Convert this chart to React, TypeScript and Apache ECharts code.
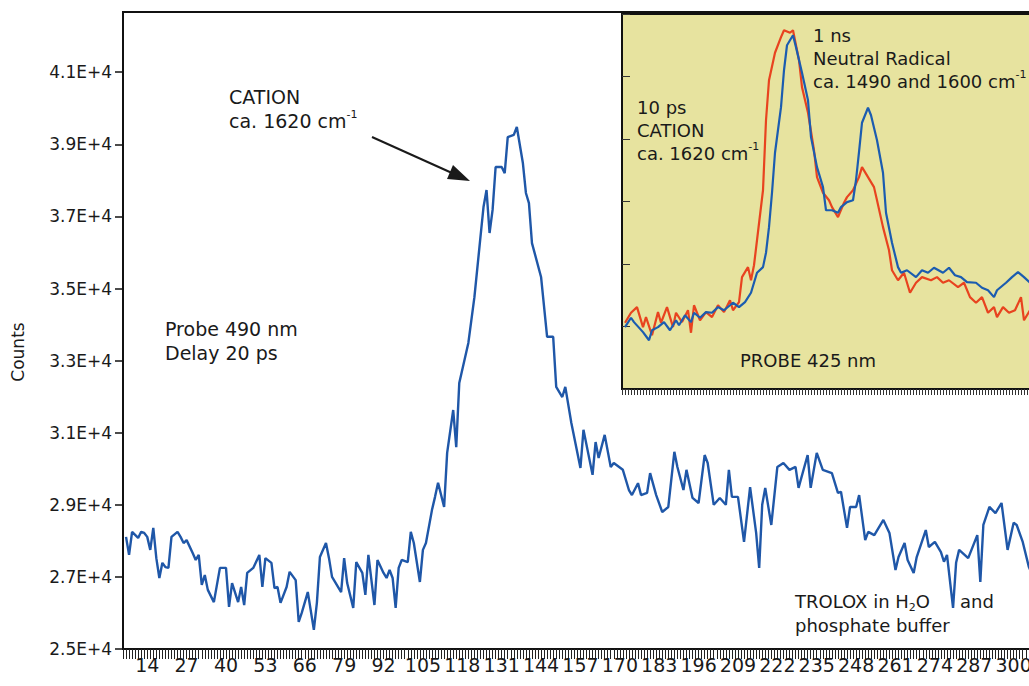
import React, { useEffect, useRef } from 'react';
import * as echarts from 'echarts';

const FONT = '"DejaVu Sans", sans-serif';
const INK = '#1a1a1a';

// scan numbers on the main axis (category axis)
const scanNumbers: string[] = [];
for (let s = 6; s <= 312; s++) scanNumbers.push(String(s));

const xTickLabels = ['14', '27', '40', '53', '66', '79', '92', '105', '118', '131', '144', '157', '170', '183', '196', '209', '222', '235', '248', '261', '274', '287', '300'];

// main trace: [scan number, counts]
const mainCounts: Array<[number, number]> = [
  [7, 28110], [8, 27610], [9, 28250], [11, 28080], [12, 28250], [13, 28220], [14, 28110], [15, 27750], [16, 28360], [17, 27520],
  [18, 26970], [19, 27390], [20, 27270], [21, 27250], [22, 28110], [24, 28250], [25, 28110], [26, 27940], [27, 28020], [29, 27660],
  [30, 27470], [31, 27610], [32, 26780], [33, 27050], [34, 26640], [36, 26300], [38, 27250], [40, 27250], [41, 26170], [42, 26830],
  [44, 26300], [45, 26720], [46, 26220], [47, 27110], [49, 27250], [51, 27610], [52, 26720], [53, 27520], [55, 27390], [56, 26690],
  [57, 26720], [58, 26280], [60, 26720], [61, 27140], [63, 26910], [64, 25750], [65, 26000], [67, 26580], [69, 25530], [70, 26280],
  [71, 27550], [73, 27940], [74, 27520], [75, 27000], [78, 26580], [79, 27520], [80, 26830], [82, 26140], [83, 27410], [85, 27110],
  [86, 26500], [87, 27610], [89, 26220], [90, 27470], [92, 27110], [93, 26970], [94, 27190], [95, 26970], [96, 26140], [97, 27250],
  [98, 27470], [100, 27410], [101, 28250], [102, 27940], [104, 26860], [105, 27750], [106, 27940], [108, 28860], [109, 29220], [110, 29610],
  [112, 28940], [113, 30440], [115, 31630], [116, 30600], [117, 32380], [120, 33490], [122, 34760], [124, 36430], [125, 37260], [126, 37730],
  [127, 36540], [128, 37180], [129, 38370], [131, 38370], [132, 38200], [133, 39200], [135, 39260], [136, 39480], [138, 38480], [139, 37650],
  [140, 37370], [141, 36260], [144, 35320], [146, 33660], [148, 33660], [149, 32270], [151, 31990], [152, 32270], [154, 31270], [157, 30020],
  [158, 31080], [161, 29830], [162, 30740], [163, 30300], [165, 30940], [167, 30050], [168, 30160], [171, 29970], [173, 29410], [174, 29270],
  [176, 29600], [177, 29270], [179, 29330], [180, 29880], [182, 29270], [184, 28800], [186, 28940], [188, 30470], [189, 30050], [191, 29410],
  [192, 29970], [194, 29190], [196, 29050], [198, 30380], [199, 30160], [201, 29000], [203, 29190], [205, 29000], [206, 29970], [207, 29220],
  [209, 29220], [211, 27970], [213, 29490], [215, 28220], [216, 27250], [217, 29000], [218, 29470], [220, 28440], [222, 30050], [224, 30160],
  [226, 29970], [228, 30050], [229, 29470], [232, 30380], [233, 29470], [235, 30440], [237, 29970], [240, 29880], [242, 29330], [243, 29360],
  [245, 28360], [246, 28940], [248, 28940], [249, 29270], [251, 28020], [252, 28250], [254, 28160], [257, 28580], [259, 28220], [261, 27190],
  [262, 27550], [264, 27940], [265, 27470], [267, 27110], [268, 27550], [271, 28300], [272, 27830], [274, 27970], [276, 27690], [277, 27420],
  [278, 27610], [280, 26140], [281, 27390], [282, 27750], [285, 27520], [288, 28160], [289, 26860], [290, 28440], [292, 28940], [294, 28770],
  [296, 29050], [298, 27750], [300, 28500], [301, 28440], [303, 27970], [305, 27280], [307, 26900],
];

// inset: channel index and relative signal
const insetChannels: string[] = [];
for (let c = 0; c <= 146; c++) insetChannels.push(String(c));

const insetRed1ns: Array<[number, number]> = [
  [1, 1.06], [3, 1.22], [5, 1.31], [7, 0.99], [8, 1.15], [10, 0.86], [12, 1.23], [13, 1.06], [15, 1.31], [17, 0.99],
  [18, 1.22], [20, 1.07], [22, 1.26], [23, 0.9], [24, 1.34], [26, 1.1], [28, 1.23], [30, 1.15], [32, 1.34], [34, 1.23],
  [36, 1.42], [37, 1.26], [39, 1.39], [40, 1.79], [42, 1.95], [43, 1.74], [44, 1.98], [45, 2.38], [47, 3.18], [48, 4.3],
  [49, 4.94], [51, 5.38], [53, 5.63], [54, 5.74], [56, 5.7], [57, 5.74], [59, 5.26], [60, 4.83], [62, 4.42], [64, 3.82],
  [65, 3.39], [67, 3.14], [69, 3.02], [70, 2.91], [72, 2.75], [74, 2.98], [75, 3.07], [77, 3.18], [79, 3.39], [80, 3.55],
  [82, 3.39], [84, 3.23], [85, 3.02], [87, 2.59], [89, 2.22], [90, 1.9], [92, 1.74], [94, 1.86], [96, 1.54], [98, 1.7],
  [100, 1.79], [103, 1.74], [105, 1.79], [107, 1.7], [109, 1.74], [112, 1.63], [114, 1.7], [116, 1.47], [118, 1.38], [120, 1.47],
  [122, 1.22], [124, 1.31], [125, 1.15], [127, 1.31], [129, 1.22], [131, 1.26], [133, 1.47], [134, 1.1], [136, 1.26], [138, 1.34],
];

const insetBlue10ps: Array<[number, number]> = [
  [1, 0.99], [3, 1.14], [4, 1.07], [7, 0.91], [9, 0.78], [10, 0.94], [12, 0.99], [14, 1.07], [16, 0.94], [18, 1.1],
  [19, 1.02], [21, 1.18], [23, 1.07], [24, 1.22], [26, 1.14], [28, 1.23], [30, 1.22], [32, 1.31], [34, 1.26], [37, 1.38],
  [39, 1.31], [41, 1.39], [43, 1.54], [44, 1.7], [45, 1.86], [47, 1.95], [48, 2.18], [49, 2.59], [50, 3.14], [51, 3.78],
  [53, 4.51], [54, 5.1], [55, 5.5], [57, 5.66], [58, 5.47], [60, 5.06], [62, 4.62], [63, 4.03], [65, 3.55], [67, 3.23],
  [68, 2.86], [70, 2.86], [72, 2.82], [73, 2.91], [75, 2.99], [77, 3.02], [78, 3.34], [79, 3.79], [80, 4.26], [82, 4.5],
  [83, 4.38], [85, 3.98], [87, 3.46], [88, 2.82], [90, 2.34], [92, 1.95], [93, 1.86], [95, 1.9], [98, 1.79], [100, 1.9],
  [102, 1.86], [104, 1.94], [107, 1.86], [109, 1.94], [111, 1.82], [113, 1.79], [115, 1.71], [118, 1.7], [120, 1.62], [122, 1.58],
  [124, 1.47], [125, 1.58], [128, 1.7], [130, 1.79], [132, 1.87], [134, 1.79], [136, 1.7], [138, 1.58],
];

const txt = (x: number, y: number, text: string, size = 18) => ({
  type: 'text',
  x,
  y,
  z: 20,
  style: { text, fill: INK, fontSize: size, fontFamily: FONT, verticalAlign: 'middle', align: 'left' },
});

const rich = (x: number, y: number, text: string, size = 18) => ({
  type: 'text',
  x,
  y,
  z: 20,
  style: {
    text,
    fill: INK,
    fontSize: size,
    fontFamily: FONT,
    verticalAlign: 'middle',
    align: 'left',
    rich: {
      t: { fontSize: size, fontFamily: FONT, fill: INK, color: INK },
      sup: { fontSize: 11, fontFamily: FONT, fill: INK, color: INK, padding: [0, 0, 14, 0] },
      sub: { fontSize: 11, fontFamily: FONT, fill: INK, color: INK, padding: [12, 0, 0, 0] },
    },
  },
});

export default function App() {
  const ref = useRef<HTMLDivElement>(null);

  useEffect(() => {
    if (!ref.current) return;
    const chart = echarts.init(ref.current, undefined, { renderer: 'svg' });
    const labelSet = new Set(xTickLabels);

    const option: any = {
      animation: false,
      backgroundColor: '#ffffff',
      grid: [
        { left: 123, top: 12, width: 927, height: 637, show: true, borderColor: '#111', borderWidth: 2, backgroundColor: 'transparent' },
        { left: 622, top: 14, width: 438, height: 375, show: true, borderColor: '#111', borderWidth: 2, backgroundColor: '#e7e39f' },
      ],
      xAxis: [
        {
          gridIndex: 0,
          type: 'category',
          data: scanNumbers,
          boundaryGap: false,
          axisLine: { lineStyle: { color: '#111', width: 2 } },
          axisTick: { interval: 0, length: 10, lineStyle: { color: '#222', width: 1 } },
          axisLabel: {
            interval: (_i: number, v: string) => labelSet.has(v),
            fontSize: 19,
            fontFamily: FONT,
            color: INK,
            margin: 6,
          },
          splitLine: { show: false },
        },
        {
          gridIndex: 1,
          type: 'category',
          data: insetChannels,
          boundaryGap: false,
          axisLine: { lineStyle: { color: '#111', width: 2 } },
          axisTick: { interval: 0, length: 6, lineStyle: { color: '#333', width: 1 } },
          axisLabel: { show: false },
          splitLine: { show: false },
        },
      ],
      yAxis: [
        {
          gridIndex: 0,
          type: 'value',
          min: 25000,
          max: 42670,
          interval: 2000,
          axisLine: { show: true, lineStyle: { color: '#111', width: 2 } },
          axisTick: { show: true, length: 8, lineStyle: { color: '#111', width: 1.5 } },
          axisLabel: {
            fontSize: 17,
            fontFamily: FONT,
            color: INK,
            margin: 11,
            showMaxLabel: false,
            formatter: (v: number) => ((v - 25000) % 2000 === 0 ? (v / 10000).toFixed(1) + 'E+4' : ''),
          },
          splitLine: { show: false },
        },
        {
          gridIndex: 1,
          type: 'value',
          min: 0,
          max: 6,
          interval: 1,
          axisLine: { show: true, lineStyle: { color: '#111', width: 2 } },
          axisTick: { show: true, inside: true, length: 8, lineStyle: { color: '#333', width: 1 } },
          axisLabel: { show: false },
          splitLine: { show: false },
        },
      ],
      series: [
        {
          type: 'line',
          xAxisIndex: 0,
          yAxisIndex: 0,
          data: mainCounts.map(([s, c]) => [String(s), c]),
          showSymbol: false,
          lineStyle: { color: '#1f57a8', width: 2.4 },
          itemStyle: { color: '#1f57a8' },
          z: 3,
        },
        {
          type: 'line',
          xAxisIndex: 1,
          yAxisIndex: 1,
          data: insetRed1ns.map(([c, v]) => [String(c), v]),
          showSymbol: false,
          lineStyle: { color: '#e8431f', width: 2.2 },
          itemStyle: { color: '#e8431f' },
          z: 4,
        },
        {
          type: 'line',
          xAxisIndex: 1,
          yAxisIndex: 1,
          data: insetBlue10ps.map(([c, v]) => [String(c), v]),
          showSymbol: false,
          lineStyle: { color: '#1b5cb0', width: 2.2 },
          itemStyle: { color: '#1b5cb0' },
          z: 5,
        },
      ],
      graphic: [
        {
          type: 'text',
          x: 18,
          y: 352,
          rotation: Math.PI / 2,
          z: 20,
          style: { text: 'Counts', fill: INK, fontSize: 17, fontFamily: FONT, align: 'center', verticalAlign: 'middle' },
        },
        txt(229, 97, 'CATION', 19),
        rich(229, 121, '{t|ca. 1620 cm}{sup|-1}', 19),
        { type: 'line', z: 20, shape: { x1: 372, y1: 137, x2: 452, y2: 173 }, style: { stroke: INK, lineWidth: 2 } },
        { type: 'polygon', z: 20, shape: { points: [[470, 181], [447, 179], [453, 165]] }, style: { fill: INK } },
        txt(165, 329, 'Probe 490 nm', 19),
        txt(165, 353, 'Delay 20 ps', 19),
        rich(795, 601, '{t|TROLOX in H}{sub|2}{t|O}'),
        txt(960, 601, 'and'),
        txt(795, 625, 'phosphate buffer'),
        txt(813, 35, '1 ns'),
        txt(813, 58, 'Neutral Radical'),
        rich(813, 81, '{t|ca. 1490 and 1600 cm}{sup|-1}'),
        txt(637, 107, '10 ps'),
        txt(637, 130, 'CATION'),
        rich(637, 153, '{t|ca. 1620 cm}{sup|-1}'),
        txt(740, 360, 'PROBE 425 nm'),
      ],
    };

    chart.setOption(option);
    return () => chart.dispose();
  }, []);

  return (
    <div style={{ position: 'fixed', left: 0, top: 0, width: 1029, height: 686, overflow: 'hidden', background: '#fff' }}>
      <div ref={ref} style={{ width: 1060, height: 686 }} />
    </div>
  );
}
